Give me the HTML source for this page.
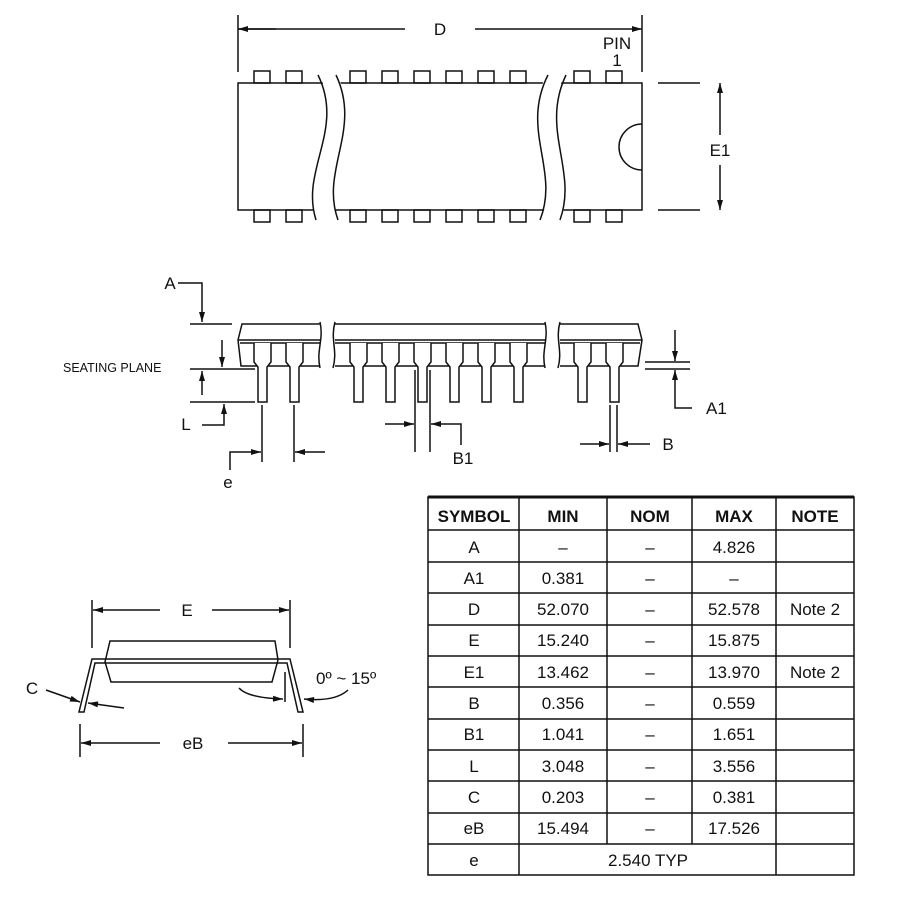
<!DOCTYPE html>
<html><head><meta charset="utf-8"><style>
html,body{margin:0;padding:0;background:#fff}
svg{display:block}
text{font-family:"Liberation Sans",Arial,sans-serif;fill:#111}
</style></head><body>
<svg width="900" height="900" viewBox="0 0 900 900" xmlns="http://www.w3.org/2000/svg">
<defs>
<marker id="ar" viewBox="0 0 10 6" refX="10" refY="3" markerWidth="14" markerHeight="6" markerUnits="userSpaceOnUse" orient="auto"><path d="M0,0L10,3L0,6z" fill="#111"/></marker>
</defs>
<g stroke="#111" stroke-width="1.5" fill="none">
<!-- TOP VIEW -->
<line x1="238" y1="15" x2="238" y2="72"/><line x1="642" y1="15" x2="642" y2="72"/>
<line x1="276" y1="29" x2="238" y2="29" marker-end="url(#ar)"/>
<line x1="238" y1="29" x2="405" y2="29"/>
<line x1="475" y1="29" x2="642" y2="29" marker-end="url(#ar)"/>
<rect x="238" y="83" width="404" height="127"/>
<g id="tp">
<rect x="254" y="71" width="16" height="12"/><rect x="286" y="71" width="16" height="12"/>
<rect x="350" y="71" width="16" height="12"/><rect x="382" y="71" width="16" height="12"/>
<rect x="414" y="71" width="16" height="12"/><rect x="446" y="71" width="16" height="12"/>
<rect x="478" y="71" width="16" height="12"/><rect x="510" y="71" width="16" height="12"/>
<rect x="574" y="71" width="16" height="12"/><rect x="606" y="71" width="16" height="12"/>
</g>
<use href="#tp" transform="translate(0,139)"/>
<path d="M318,70 C345,130 300,170 316,225 L338,225 C320,170 362,130 336,70 Z M548,70 C520,130 560,170 540,225 L560,225 C578,170 540,130 566,70 Z" fill="#fff" stroke="none"/>
<path d="M318,75 C345,130 300,170 316,220 M336,75 C362,130 320,170 338,220 M548,75 C520,130 560,170 540,220 M566,75 C540,130 578,170 560,220"/>
<path d="M642,124 A23,23 0 0 0 642,170"/>
<line x1="658" y1="83" x2="700" y2="83"/><line x1="658" y1="210" x2="700" y2="210"/>
<line x1="720" y1="135" x2="720" y2="83" marker-end="url(#ar)"/>
<line x1="720" y1="165" x2="720" y2="210" marker-end="url(#ar)"/>
<!-- SIDE VIEW -->
<path d="M320,324 L242,324 L238,340 L241,366 L320,366 M335,324 L545,324 M335,366 L545,366 M560,324 L638,324 L642,340 L638,366 L560,366"/>
<path d="M238,340 L320,340 M240,343 L320,343 M335,340 L545,340 M335,343 L545,343 M560,340 L642,340 M560,343 L640,343"/>
<path d="M320,322 C324,340 316,350 320,368 M335,322 C330,340 338,350 333,368 M545,322 C549,340 541,350 545,368 M560,322 C555,340 563,350 558,368"/>
<g id="sp"><path d="M254,343 L254,362 L258,367 L258,402 L267,402 L267,367 L271,362 L271,343" fill="#fff"/></g>
<use href="#sp" x="32"/><use href="#sp" x="96"/><use href="#sp" x="128"/><use href="#sp" x="160"/>
<use href="#sp" x="192"/><use href="#sp" x="224"/><use href="#sp" x="256"/><use href="#sp" x="320"/><use href="#sp" x="352"/>
<!-- A -->
<path d="M178,283 L202,283 L202,322" marker-end="url(#ar)"/>
<line x1="190" y1="324" x2="232" y2="324"/>
<line x1="190" y1="369" x2="255" y2="369"/>
<line x1="190" y1="402" x2="255" y2="402"/>
<line x1="222" y1="340" x2="222" y2="367" marker-end="url(#ar)"/>
<line x1="202" y1="395" x2="202" y2="371" marker-end="url(#ar)"/>
<path d="M202,425 L224,425 L224,404" marker-end="url(#ar)"/>
<!-- A1 -->
<line x1="645" y1="362" x2="690" y2="362"/><line x1="645" y1="369" x2="690" y2="369"/>
<line x1="675" y1="330" x2="675" y2="361" marker-end="url(#ar)"/>
<path d="M692,408 L675,408 L675,370" marker-end="url(#ar)"/>
<!-- e -->
<line x1="262" y1="405" x2="262" y2="462"/><line x1="294" y1="405" x2="294" y2="462"/>
<path d="M230,470 L230,452 L261,452" marker-end="url(#ar)"/>
<line x1="325" y1="452" x2="295" y2="452" marker-end="url(#ar)"/>
<!-- B1 -->
<line x1="415" y1="370" x2="415" y2="452"/><line x1="430" y1="370" x2="430" y2="452"/>
<line x1="385" y1="424" x2="414" y2="424" marker-end="url(#ar)"/>
<path d="M461,445 L461,424 L431,424" marker-end="url(#ar)"/>
<!-- B -->
<line x1="610" y1="405" x2="610" y2="452"/><line x1="617" y1="405" x2="617" y2="452"/>
<line x1="580" y1="444" x2="609" y2="444" marker-end="url(#ar)"/>
<line x1="650" y1="444" x2="618" y2="444" marker-end="url(#ar)"/>
<!-- END VIEW -->
<line x1="92" y1="600" x2="92" y2="648"/><line x1="290" y1="600" x2="290" y2="648"/>
<line x1="160" y1="610" x2="93" y2="610" marker-end="url(#ar)"/>
<line x1="212" y1="610" x2="289" y2="610" marker-end="url(#ar)"/>
<path d="M110,641 L275,641 L278,660 L272,682 L111,682 L105,662 Z"/>
<path d="M92,659 L290,659 L303,712 L298,712 L287,663 L95,663 L84,712 L79,712 Z"/>
<line x1="80" y1="724" x2="80" y2="757"/><line x1="303" y1="724" x2="303" y2="757"/>
<line x1="160" y1="743" x2="81" y2="743" marker-end="url(#ar)"/>
<line x1="228" y1="743" x2="302" y2="743" marker-end="url(#ar)"/>
<line x1="46" y1="690" x2="80" y2="702" marker-end="url(#ar)"/>
<line x1="124" y1="708" x2="88" y2="703" marker-end="url(#ar)"/>
<line x1="285" y1="672" x2="285" y2="702"/>
<path d="M239,688 Q248,698 283,699" marker-end="url(#ar)"/>
<path d="M348,690 Q335,702 304,699" marker-end="url(#ar)"/>
<!-- TABLE -->
<rect x="428" y="497" width="426" height="378"/>
<line x1="428" y1="497" x2="854" y2="497" stroke-width="3"/>
<line x1="519" y1="497" x2="519" y2="875"/><line x1="607" y1="497" x2="607" y2="844"/>
<line x1="692" y1="497" x2="692" y2="844"/><line x1="776" y1="497" x2="776" y2="875"/>
<path d="M428,530H854M428,562H854M428,593H854M428,625H854M428,656H854M428,687H854M428,719H854M428,750H854M428,781H854M428,813H854M428,844H854"/>
</g>
<g font-size="17">
<text x="440" y="35" text-anchor="middle">D</text>
<text x="617" y="49" text-anchor="middle">PIN</text>
<text x="617" y="66" text-anchor="middle">1</text>
<text x="720" y="156" text-anchor="middle">E1</text>
<text x="170" y="289" text-anchor="middle">A</text>
<text x="63" y="372" font-size="12.5">SEATING PLANE</text>
<text x="186" y="430" text-anchor="middle">L</text>
<text x="706" y="414">A1</text>
<text x="228" y="488" text-anchor="middle">e</text>
<text x="463" y="464" text-anchor="middle">B1</text>
<text x="668" y="450" text-anchor="middle">B</text>
<text x="187" y="616" text-anchor="middle">E</text>
<text x="32" y="694" text-anchor="middle">C</text>
<text x="316" y="684">0º ~ 15º</text>
<text x="193" y="749" text-anchor="middle">eB</text>
</g>
<g font-size="17" text-anchor="middle">
<g font-weight="bold">
<text x="474" y="522">SYMBOL</text><text x="563" y="522">MIN</text><text x="650" y="522">NOM</text><text x="734" y="522">MAX</text><text x="815" y="522">NOTE</text>
</g>
<text x="474" y="553">A</text><text x="563" y="553">–</text><text x="650" y="553">–</text><text x="734" y="553">4.826</text>
<text x="474" y="584">A1</text><text x="563" y="584">0.381</text><text x="650" y="584">–</text><text x="734" y="584">–</text>
<text x="474" y="615">D</text><text x="563" y="615">52.070</text><text x="650" y="615">–</text><text x="734" y="615">52.578</text><text x="815" y="615">Note 2</text>
<text x="474" y="646">E</text><text x="563" y="646">15.240</text><text x="650" y="646">–</text><text x="734" y="646">15.875</text>
<text x="474" y="678">E1</text><text x="563" y="678">13.462</text><text x="650" y="678">–</text><text x="734" y="678">13.970</text><text x="815" y="678">Note 2</text>
<text x="474" y="709">B</text><text x="563" y="709">0.356</text><text x="650" y="709">–</text><text x="734" y="709">0.559</text>
<text x="474" y="740">B1</text><text x="563" y="740">1.041</text><text x="650" y="740">–</text><text x="734" y="740">1.651</text>
<text x="474" y="772">L</text><text x="563" y="772">3.048</text><text x="650" y="772">–</text><text x="734" y="772">3.556</text>
<text x="474" y="803">C</text><text x="563" y="803">0.203</text><text x="650" y="803">–</text><text x="734" y="803">0.381</text>
<text x="474" y="834">eB</text><text x="563" y="834">15.494</text><text x="650" y="834">–</text><text x="734" y="834">17.526</text>
<text x="474" y="866">e</text><text x="648" y="866">2.540 TYP</text>
</g>
</svg>
</body></html>
